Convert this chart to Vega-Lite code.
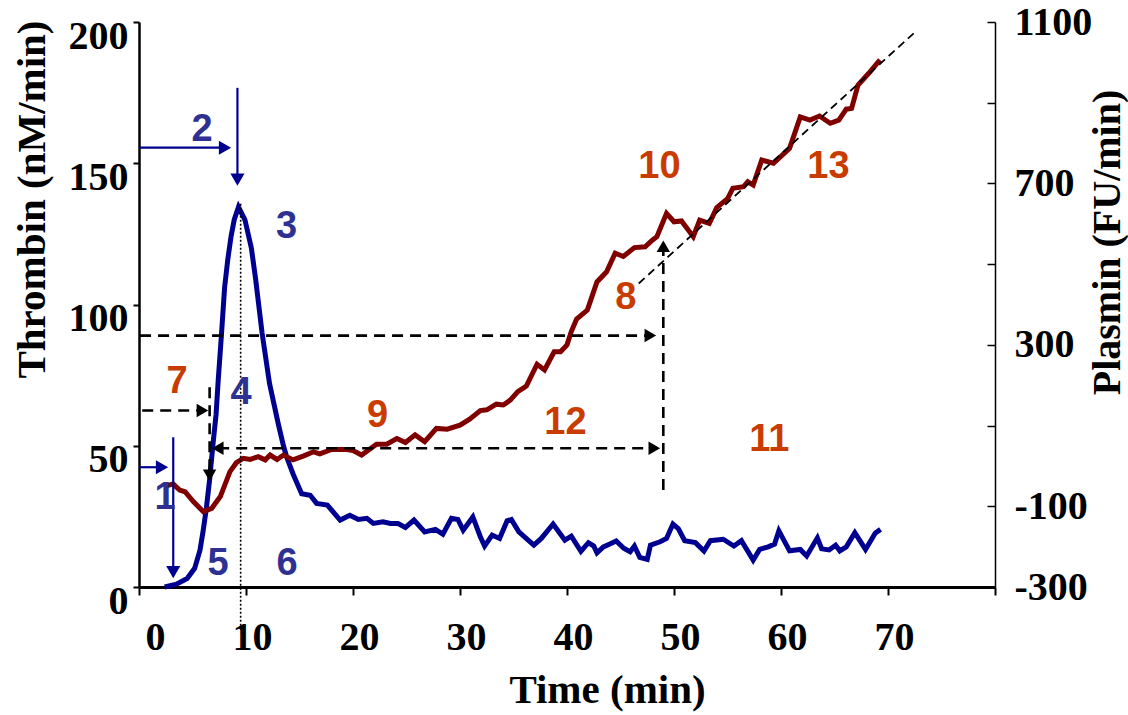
{
  "$schema": "https://vega.github.io/schema/vega-lite/v6.json",
  "width": 856,
  "height": 565,
  "autosize": {"type": "none"},
  "padding": {"left": 139, "top": 22, "right": 133, "bottom": 128},
  "background": "white",
  "config": {
    "view": {"stroke": null},
    "axis": {
      "grid": false,
      "labelFont": "Liberation Serif",
      "labelFontWeight": "bold",
      "labelFontSize": 40,
      "labelColor": "#000000",
      "titleFont": "Liberation Serif",
      "titleFontWeight": "bold",
      "titleFontSize": 41,
      "titleColor": "#000000",
      "domainColor": "#000000",
      "tickColor": "#000000"
    }
  },
  "datasets": {
    "thrombin": [
      {"time": 2.4, "rate": 0}, {"time": 3.5, "rate": 1}, {"time": 4.5, "rate": 3}, {"time": 5.2, "rate": 6.6},
      {"time": 5.7, "rate": 13}, {"time": 6.0, "rate": 20}, {"time": 6.3, "rate": 28}, {"time": 6.6, "rate": 38},
      {"time": 6.9, "rate": 50}, {"time": 7.2, "rate": 61}, {"time": 7.4, "rate": 73}, {"time": 7.7, "rate": 89},
      {"time": 8.0, "rate": 106}, {"time": 8.3, "rate": 116}, {"time": 8.6, "rate": 124}, {"time": 8.9, "rate": 130},
      {"time": 9.3, "rate": 134.5}, {"time": 9.9, "rate": 130}, {"time": 10.5, "rate": 120}, {"time": 10.9, "rate": 109},
      {"time": 11.5, "rate": 90}, {"time": 12.2, "rate": 72}, {"time": 13.0, "rate": 58}, {"time": 13.5, "rate": 50},
      {"time": 13.8, "rate": 46}, {"time": 14.4, "rate": 40}, {"time": 15.2, "rate": 33}, {"time": 16.0, "rate": 32.5},
      {"time": 16.6, "rate": 29.6}, {"time": 17.6, "rate": 29}, {"time": 18.8, "rate": 23.7}, {"time": 19.7, "rate": 25.4},
      {"time": 20.5, "rate": 23.9}, {"time": 21.3, "rate": 24.3}, {"time": 21.9, "rate": 22.5}, {"time": 22.8, "rate": 23.1},
      {"time": 23.5, "rate": 22.5}, {"time": 24.2, "rate": 22.5}, {"time": 24.9, "rate": 21.1}, {"time": 25.7, "rate": 23.7},
      {"time": 26.7, "rate": 19.5}, {"time": 27.7, "rate": 20.4}, {"time": 28.4, "rate": 18.7}, {"time": 29.2, "rate": 24.3},
      {"time": 29.8, "rate": 23.9}, {"time": 30.3, "rate": 20.1}, {"time": 31.2, "rate": 24.8}, {"time": 31.9, "rate": 17.8},
      {"time": 32.3, "rate": 14.5}, {"time": 33.0, "rate": 18.4}, {"time": 33.7, "rate": 17.2}, {"time": 34.4, "rate": 23.4},
      {"time": 34.8, "rate": 23.9}, {"time": 35.5, "rate": 19.5}, {"time": 36.9, "rate": 14.8}, {"time": 37.6, "rate": 17.2},
      {"time": 38.7, "rate": 22.3}, {"time": 39.8, "rate": 16.6}, {"time": 40.4, "rate": 18.0}, {"time": 41.3, "rate": 12.6},
      {"time": 42.0, "rate": 15.7}, {"time": 42.5, "rate": 14.5}, {"time": 42.8, "rate": 12.1}, {"time": 43.4, "rate": 14.2},
      {"time": 44.0, "rate": 15.2}, {"time": 44.6, "rate": 16.3}, {"time": 45.3, "rate": 13.7}, {"time": 45.9, "rate": 12.5},
      {"time": 46.3, "rate": 14.5}, {"time": 46.8, "rate": 10.5}, {"time": 47.5, "rate": 9.8}, {"time": 47.8, "rate": 14.8},
      {"time": 48.7, "rate": 16.0}, {"time": 49.3, "rate": 17.2}, {"time": 49.9, "rate": 22.3}, {"time": 50.4, "rate": 20.7},
      {"time": 51.0, "rate": 16.4}, {"time": 52.0, "rate": 15.7}, {"time": 52.8, "rate": 12.7}, {"time": 53.4, "rate": 16.4},
      {"time": 54.6, "rate": 16.9}, {"time": 55.6, "rate": 14.5}, {"time": 56.3, "rate": 16.4}, {"time": 57.4, "rate": 9.5},
      {"time": 58.0, "rate": 13.3}, {"time": 58.8, "rate": 14.2}, {"time": 59.4, "rate": 15.2}, {"time": 59.8, "rate": 19.9},
      {"time": 60.8, "rate": 12.8}, {"time": 61.8, "rate": 13.3}, {"time": 62.4, "rate": 11.0}, {"time": 63.4, "rate": 17.4},
      {"time": 63.8, "rate": 13.5}, {"time": 64.5, "rate": 13.1}, {"time": 65.1, "rate": 14.8}, {"time": 65.5, "rate": 12.8},
      {"time": 66.1, "rate": 14.2}, {"time": 66.9, "rate": 19.2}, {"time": 67.9, "rate": 13.3}, {"time": 68.8, "rate": 19.0},
      {"time": 69.3, "rate": 20.4}
    ],
    "plasmin": [
      {"time": 2.4, "rate": -50}, {"time": 3.2, "rate": -45}, {"time": 3.8, "rate": -60}, {"time": 4.3, "rate": -64},
      {"time": 5.1, "rate": -89}, {"time": 6.0, "rate": -113}, {"time": 6.8, "rate": -105}, {"time": 7.6, "rate": -76},
      {"time": 8.5, "rate": -14}, {"time": 9.1, "rate": 8}, {"time": 9.75, "rate": 19}, {"time": 10.4, "rate": 16},
      {"time": 11.15, "rate": 23}, {"time": 11.8, "rate": 15}, {"time": 12.25, "rate": 27}, {"time": 12.9, "rate": 16},
      {"time": 13.5, "rate": 27}, {"time": 14.4, "rate": 15}, {"time": 15.4, "rate": 25}, {"time": 16.3, "rate": 35},
      {"time": 16.9, "rate": 30}, {"time": 18.0, "rate": 41}, {"time": 19.25, "rate": 41}, {"time": 20.0, "rate": 38},
      {"time": 20.8, "rate": 27}, {"time": 22.2, "rate": 54}, {"time": 23.15, "rate": 54}, {"time": 24.1, "rate": 68},
      {"time": 24.9, "rate": 58}, {"time": 25.8, "rate": 77}, {"time": 26.7, "rate": 60}, {"time": 27.8, "rate": 93},
      {"time": 28.8, "rate": 91}, {"time": 30.0, "rate": 101}, {"time": 30.9, "rate": 116}, {"time": 31.9, "rate": 137},
      {"time": 32.5, "rate": 139}, {"time": 33.4, "rate": 153}, {"time": 34.05, "rate": 151}, {"time": 34.7, "rate": 163},
      {"time": 35.4, "rate": 184}, {"time": 36.2, "rate": 198}, {"time": 37.2, "rate": 252}, {"time": 37.9, "rate": 238},
      {"time": 38.8, "rate": 283}, {"time": 39.4, "rate": 283}, {"time": 40.0, "rate": 300}, {"time": 40.4, "rate": 333},
      {"time": 40.9, "rate": 364}, {"time": 41.9, "rate": 386}, {"time": 42.8, "rate": 456}, {"time": 43.7, "rate": 481},
      {"time": 44.5, "rate": 527}, {"time": 45.26, "rate": 519}, {"time": 46.3, "rate": 541}, {"time": 47.3, "rate": 543},
      {"time": 48.0, "rate": 560}, {"time": 48.4, "rate": 568}, {"time": 49.3, "rate": 626}, {"time": 50.0, "rate": 605},
      {"time": 50.7, "rate": 607}, {"time": 51.8, "rate": 568}, {"time": 52.4, "rate": 609}, {"time": 53.3, "rate": 601},
      {"time": 54.0, "rate": 640}, {"time": 55.0, "rate": 662}, {"time": 55.5, "rate": 688}, {"time": 56.5, "rate": 692},
      {"time": 56.9, "rate": 704}, {"time": 57.4, "rate": 696}, {"time": 58.2, "rate": 758}, {"time": 59.3, "rate": 750},
      {"time": 60.8, "rate": 787}, {"time": 61.8, "rate": 865}, {"time": 62.7, "rate": 857}, {"time": 63.6, "rate": 867},
      {"time": 64.6, "rate": 849}, {"time": 65.4, "rate": 857}, {"time": 66.1, "rate": 884}, {"time": 66.6, "rate": 886},
      {"time": 67.2, "rate": 944}, {"time": 68.2, "rate": 973}, {"time": 69.25, "rate": 1006}
    ],
    "guides": [
      {"t": 0, "t2": 1.9, "v": 42.4, "v2": 42.4, "style": "solid"},
      {"t": 3.2, "t2": 3.2, "v": 53, "v2": 7, "style": "solid"},
      {"t": 0, "t2": 7.8, "v": 155.5, "v2": 155.5, "style": "solid"},
      {"t": 9.2, "t2": 9.2, "v": 176.7, "v2": 146, "style": "solid"},
      {"t": 0.3, "t2": 5.8, "v": 62.5, "v2": 62.5, "style": "dashed"},
      {"t": 6.6, "t2": 6.6, "v": 70.7, "v2": 40.5, "style": "dashed"},
      {"t": 7.4, "t2": 48.2, "v": 49.1, "v2": 49.1, "style": "dashed"},
      {"t": 0.1, "t2": 47.8, "v": 89, "v2": 89, "style": "dashed"},
      {"t": 49.0, "t2": 49.0, "v": 34.3, "v2": 120, "style": "dashed"},
      {"t": 9.5, "t2": 9.5, "v": 135.7, "v2": -16, "style": "dotted"}
    ],
    "heads": [
      {"t": 2.15, "v": 42.4, "dir": "right", "tone": "blue"},
      {"t": 3.2, "v": 5.3, "dir": "down", "tone": "blue"},
      {"t": 8.04, "v": 155.5, "dir": "right", "tone": "blue"},
      {"t": 9.2, "v": 144.2, "dir": "down", "tone": "blue"},
      {"t": 5.93, "v": 62.5, "dir": "right", "tone": "black"},
      {"t": 6.6, "v": 39.5, "dir": "down", "tone": "black"},
      {"t": 7.36, "v": 49.1, "dir": "left", "tone": "black"},
      {"t": 48.16, "v": 49.1, "dir": "right", "tone": "black"},
      {"t": 47.79, "v": 89, "dir": "right", "tone": "black"},
      {"t": 49.0, "v": 120.6, "dir": "up", "tone": "black"}
    ],
    "labels": [
      {"t": 2.43, "v": 31.4, "text": "1", "series": "thrombin"},
      {"t": 5.9, "v": 161.8, "text": "2", "series": "thrombin"},
      {"t": 13.8, "v": 127.6, "text": "3", "series": "thrombin"},
      {"t": 9.53, "v": 68.7, "text": "4", "series": "thrombin"},
      {"t": 7.38, "v": 8.1, "text": "5", "series": "thrombin"},
      {"t": 13.83, "v": 8.1, "text": "6", "series": "thrombin"},
      {"t": 3.55, "v": 72.4, "text": "7", "series": "plasmin"},
      {"t": 45.5, "v": 102.3, "text": "8", "series": "plasmin"},
      {"t": 22.3, "v": 60.4, "text": "9", "series": "plasmin"},
      {"t": 48.64, "v": 148.8, "text": "10", "series": "plasmin"},
      {"t": 58.9, "v": 51.9, "text": "11", "series": "plasmin"},
      {"t": 39.86, "v": 58.1, "text": "12", "series": "plasmin"},
      {"t": 64.44, "v": 148.8, "text": "13", "series": "plasmin"}
    ],
    "trend": [
      {"t": 46.7, "t2": 72.4, "v": 452, "v2": 1072}
    ]
  },
  "layer": [
    {
      "data": {"name": "thrombin"},
      "mark": {"type": "line", "color": "#000090", "strokeWidth": 5},
      "encoding": {
        "x": {
          "field": "time", "type": "quantitative",
          "scale": {"domain": [0, 80], "nice": false},
          "axis": {
            "title": "Time (min)",
            "values": [0, 10, 20, 30, 40, 50, 60, 70, 80],
            "labelExpr": "datum.value == 80 ? '' : datum.label",
            "domainWidth": 3,
            "tickWidth": 2,
            "tickSize": 8,
            "labelPadding": 22,
            "labelOffset": 6,
            "titleX": 468,
            "titleY": 103,
            "titleAlign": "center",
            "titleBaseline": "middle"
          }
        },
        "y": {
          "field": "rate", "type": "quantitative",
          "scale": {"domain": [0, 200], "nice": false},
          "axis": {
            "title": "Thrombin (nM/min)",
            "values": [0, 50, 100, 150, 200],
            "domainWidth": 2.5,
            "tickWidth": 2,
            "tickSize": 6,
            "labelPadding": 5,
            "labelBaseline": "top",
            "labelOffset": -6,
            "titleAngle": -90,
            "titleX": -107,
            "titleY": 177,
            "titleAlign": "center",
            "titleBaseline": "middle"
          }
        }
      }
    },
    {
      "data": {"name": "plasmin"},
      "mark": {"type": "line", "color": "#800000", "strokeWidth": 5},
      "encoding": {
        "x": {"field": "time", "type": "quantitative"},
        "y": {
          "field": "rate", "type": "quantitative",
          "scale": {"domain": [-300, 1100], "nice": false, "zero": false},
          "axis": {
            "orient": "right",
            "title": "Plasmin (FU/min)",
            "values": [-300, -100, 100, 300, 500, 700, 900, 1100],
            "labelExpr": "(datum.value + 100) % 400 == 0 || datum.value == -300 ? '' + datum.value : ''",
            "domainWidth": 1.5,
            "tickWidth": 1.5,
            "tickSize": -8,
            "labelPadding": 27,
            "labelBaseline": "middle",
            "titleAngle": -90,
            "titleFontSize": 40,
            "titleX": 112,
            "titleY": 220,
            "titleAlign": "center",
            "titleBaseline": "middle"
          }
        }
      }
    },
    {
      "data": {"name": "trend"},
      "mark": {"type": "rule", "color": "#000000", "strokeWidth": 1.8, "strokeDash": [8, 5]},
      "encoding": {
        "x": {"field": "t", "type": "quantitative"},
        "x2": {"field": "t2"},
        "y": {"field": "v", "type": "quantitative", "scale": {"domain": [-300, 1100], "nice": false, "zero": false}, "axis": null},
        "y2": {"field": "v2"}
      }
    },
    {
      "data": {"name": "guides"},
      "transform": [{"filter": "datum.style == 'solid'"}],
      "mark": {"type": "rule", "color": "#000090", "strokeWidth": 2.2},
      "encoding": {
        "x": {"field": "t", "type": "quantitative"},
        "x2": {"field": "t2"},
        "y": {"field": "v", "type": "quantitative", "scale": {"domain": [0, 200], "nice": false}, "axis": null},
        "y2": {"field": "v2"}
      }
    },
    {
      "data": {"name": "guides"},
      "transform": [{"filter": "datum.style == 'dashed'"}],
      "mark": {"type": "rule", "color": "#000000", "strokeWidth": 2.6, "strokeDash": [11, 7]},
      "encoding": {
        "x": {"field": "t", "type": "quantitative"},
        "x2": {"field": "t2"},
        "y": {"field": "v", "type": "quantitative", "scale": {"domain": [0, 200], "nice": false}, "axis": null},
        "y2": {"field": "v2"}
      }
    },
    {
      "data": {"name": "guides"},
      "transform": [{"filter": "datum.style == 'dotted'"}],
      "mark": {"type": "rule", "color": "#000000", "strokeWidth": 1.6, "strokeDash": [2, 2]},
      "encoding": {
        "x": {"field": "t", "type": "quantitative"},
        "x2": {"field": "t2"},
        "y": {"field": "v", "type": "quantitative", "scale": {"domain": [0, 200], "nice": false}, "axis": null},
        "y2": {"field": "v2"}
      }
    },
    {
      "data": {"name": "heads"},
      "transform": [{"filter": "datum.tone == 'blue'"}],
      "mark": {"type": "point", "filled": true, "opacity": 1, "color": "#000090", "size": 200},
      "encoding": {
        "x": {"field": "t", "type": "quantitative"},
        "y": {"field": "v", "type": "quantitative", "scale": {"domain": [0, 200], "nice": false}, "axis": null},
        "shape": {
          "field": "dir", "type": "nominal", "legend": null,
          "scale": {"domain": ["right", "left", "up", "down"], "range": ["triangle-right", "triangle-left", "triangle-up", "triangle-down"]}
        }
      }
    },
    {
      "data": {"name": "heads"},
      "transform": [{"filter": "datum.tone == 'black'"}],
      "mark": {"type": "point", "filled": true, "opacity": 1, "color": "#000000", "size": 180},
      "encoding": {
        "x": {"field": "t", "type": "quantitative"},
        "y": {"field": "v", "type": "quantitative", "scale": {"domain": [0, 200], "nice": false}, "axis": null},
        "shape": {
          "field": "dir", "type": "nominal", "legend": null,
          "scale": {"domain": ["right", "left", "up", "down"], "range": ["triangle-right", "triangle-left", "triangle-up", "triangle-down"]}
        }
      }
    },
    {
      "data": {"name": "labels"},
      "transform": [{"filter": "datum.series == 'thrombin'"}],
      "mark": {"type": "text", "font": "Liberation Sans", "fontWeight": "bold", "fontSize": 38, "color": "#2E3192", "align": "center", "baseline": "middle"},
      "encoding": {
        "x": {"field": "t", "type": "quantitative"},
        "y": {"field": "v", "type": "quantitative", "scale": {"domain": [0, 200], "nice": false}, "axis": null},
        "text": {"field": "text"}
      }
    },
    {
      "data": {"name": "labels"},
      "transform": [{"filter": "datum.series == 'plasmin'"}],
      "mark": {"type": "text", "font": "Liberation Sans", "fontWeight": "bold", "fontSize": 38, "color": "#C83C00", "align": "center", "baseline": "middle"},
      "encoding": {
        "x": {"field": "t", "type": "quantitative"},
        "y": {"field": "v", "type": "quantitative", "scale": {"domain": [0, 200], "nice": false}, "axis": null},
        "text": {"field": "text"}
      }
    }
  ],
  "resolve": {"scale": {"y": "independent"}}
}
